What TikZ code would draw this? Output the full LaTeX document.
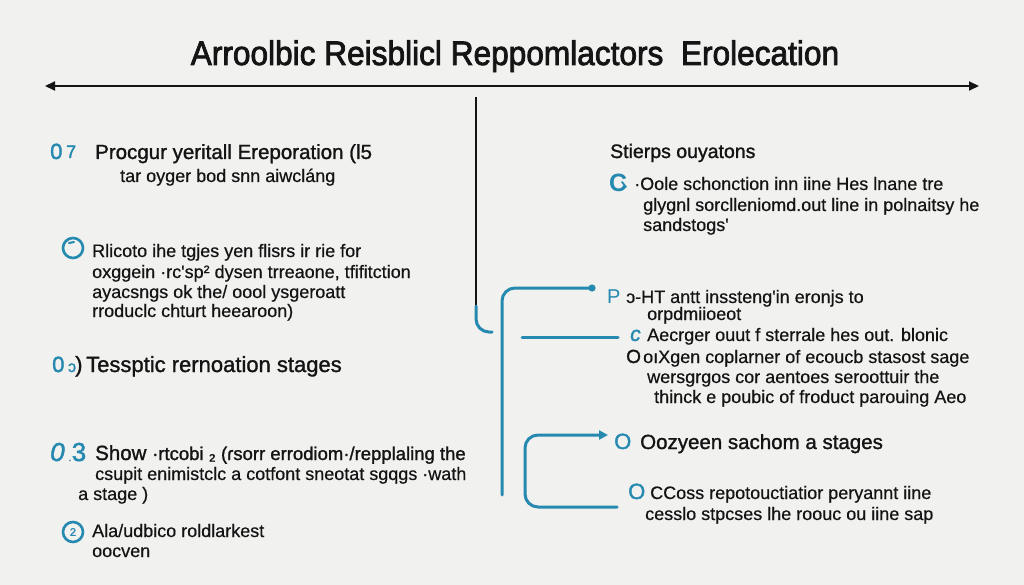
\documentclass[tikz,border=0pt]{standalone}
\usepackage{fontspec}
\setmainfont{Liberation Sans}
\newfontfamily\bodyf[FakeBold=0.5]{Liberation Sans}
\newfontfamily\semib[FakeBold=1.3]{Liberation Sans}
\newfontfamily\iconf[FakeBold=1.8]{Liberation Sans}
\newfontfamily\titlef[FakeBold=2.4]{Liberation Sans}
\usetikzlibrary{arrows.meta}
\definecolor{bg}{RGB}{241,241,240}
\definecolor{ink}{RGB}{20,20,20}
\definecolor{accent}{RGB}{38,137,176}
\tikzset{
  txt/.style={anchor=base west, inner sep=0pt, text=ink, font=\bodyf\fontsize{18}{21}\selectfont},
  head/.style={anchor=base west, inner sep=0pt, text=ink, font=\semib\fontsize{20.5}{23}\selectfont},
  conn/.style={draw=accent, line width=3pt, rounded corners=13pt, line cap=round},
  icon/.style={anchor=base west, inner sep=0pt, text=accent, font=\iconf\fontsize{22}{23}\selectfont},
  ring/.style={circle, draw=accent, line width=2.6pt, minimum size=20pt, inner sep=0pt}
}
\begin{document}
\begin{tikzpicture}[x=1pt,y=-1pt]
\fill[bg] (0,0) rectangle (1024,585);
\useasboundingbox (0,0) rectangle (1024,585);

% title
\node[anchor=base, inner sep=0pt, text=ink] (title) at (515,65)
  {\scalebox{0.93}[1]{\titlef\fontsize{34}{36}\selectfont Arroolbic Reisblicl Reppomlactors\ \ Erolecation}};

% timeline arrow
\coordinate (axL) at (45,86);
\coordinate (axR) at (979,86);
\draw[ink, line width=2pt, {Triangle[length=10pt,width=9pt]}-{Triangle[length=10pt,width=9pt]}] (axL) -- (axR);

% spine
\coordinate (spTop) at (476,97);
\coordinate (spMid) at (476,306);
\coordinate (spEnd) at (492,332);
\draw[ink, line width=2.4pt] (spTop) -- (spMid);
\draw[conn] (spMid) |- (spEnd);

% ---------- left column ----------
\node[icon] (i1) at (50,159) {0\,\raisebox{1pt}{\fontsize{18}{18}\selectfont 7}};
\node[head] (h1) at (95,159) {Procgur yeritall Ereporation (l5};
\node[txt] (h1b) at (120,182) {tar oyger bod snn aiwcláng};

\node[ring] (r1) at (73,248) {};
\draw[accent, line width=2pt, line cap=round] (69,243) -- (74,242);
\node[txt] (b1) at (92,257) {Rlicoto ihe tgjes yen flisrs ir rie for};
\node[txt] (b2) at (92,278) {oxggein ·rc'sp² dysen trreaone, tfifitction};
\node[txt] (b3) at (92,298) {ayacsngs ok the/ oool ysgeroatt};
\node[txt] (b4) at (92,317) {rroduclc chturt heearoon)};

\node[icon] (i2) at (52,372) {0\,{\fontsize{16}{16}\selectfont ɔ}};
\node[head, font=\semib\fontsize{22}{24}\selectfont] (h2) at (75,372) {)\,Tessptic rernoation stages};

\node[icon, font=\iconf\fontsize{26}{26}\selectfont] (i3) at (50,461) {\itshape 0\,{\fontsize{10}{10}\selectfont.}\upshape 3};
\node[head] (h3) at (95,460) {Show \semib\fontsize{18.5}{21}\selectfont ·rtcobi ₂ (ɾsorr errodiom·/repplaling the};
\node[txt] (c2) at (95,480) {csupit enimistclc a cotfont sneotat sgqgs ·wath};
\node[txt] (c3) at (78,500) {a stage )};

\node[ring] (r2) at (73,532) {\iconf\fontsize{11}{11}\selectfont\color{accent}2};
\node[txt] (d1) at (92,537) {Ala/udbico roldlarkest};
\node[txt] (d2) at (92,557) {oocven};

% ---------- right column ----------
\node[head, font=\semib\fontsize{19.5}{22}\selectfont] (h4) at (610,158) {Stierps ouyatons};
\node[icon, font=\bfseries\fontsize{25}{25}\selectfont] (i4) at (609,192) {C};
\draw[accent, line width=1.8pt, line cap=round] (622,182) -- (626,187);
\node[txt] (e1) at (634,190) {·Oole schonction inn iine Hes lnane tre};
\node[txt] (e2) at (643,211) {glygnl sorclleniomd.out line in polnaitsy he};
\node[txt] (e3) at (643,231) {sandstogs'};

\node[icon, font=\fontsize{20}{20}\selectfont] (i5) at (607,303) {P};
\node[txt] (f1) at (626,303) {ɔ-HT antt inssteng'in eronjs to};
\node[txt] (f2) at (647,320) {orpdmiioeot};
\node[icon, font=\iconf\itshape\fontsize{21}{22}\selectfont] (i6) at (630,341) {c};
\node[txt] (g1) at (647,341) {Aecrger ouut f sterrale hes out. blonic};
\node[txt, font=\semib\fontsize{19}{20}\selectfont] (i7) at (626,363) {O};
\node[txt] (g2) at (643,363) {oıXgen coplarner of ecoucb stasost sage};
\node[txt] (g3) at (647,383) {wersgrgos cor aentoes seroottuir the};
\node[txt] (g4) at (654,403) {thinck e poubic of froduct parouing Aeo};

\node[icon] (i8) at (614,449) {O};
\node[head] (h5) at (640,449) {Oozyeen sachom a stages};
\node[icon] (i9) at (628,499) {O};
\node[txt] (k1) at (650,499) {CCoss repotouctiatior peryannt iine};
\node[txt] (k2) at (645,520) {cesslo stpcses lhe roouc ou iine sap};

% ---------- connectors ----------
\coordinate (bP0) at (502,495);
\coordinate (bP1) at (592,288);
\draw[conn] (bP0) |- (bP1);
\fill[accent] (bP1) circle (3.6pt);

\coordinate (lc0) at (522,337);
\coordinate (lc1) at (618,337);
\draw[conn] (lc0) -- (lc1);

\coordinate (bO0) at (617,507);
\coordinate (bOc) at (525,470);
\coordinate (bO1) at (608,435);
\draw[conn, -{Triangle[length=9pt,width=9pt]}] (bO0) -| (bOc) |- (bO1);
\end{tikzpicture}
\end{document}
